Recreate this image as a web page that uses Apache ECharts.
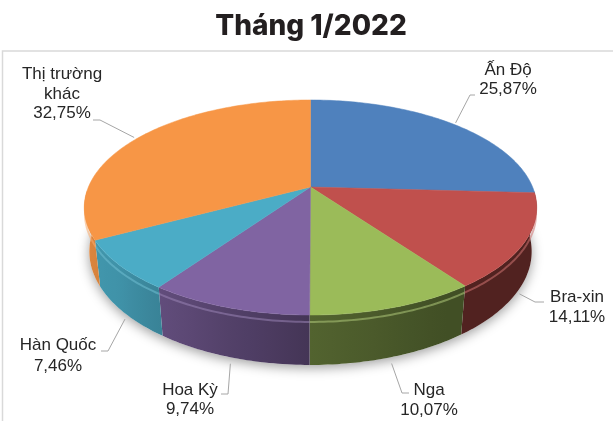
<!DOCTYPE html>
<html><head><meta charset="utf-8">
<script src="https://cdn.jsdelivr.net/npm/echarts@6/dist/echarts.min.js"></script>
<style>html,body{margin:0;padding:0;background:#fff}#c{width:613px;height:421px}</style>
</head><body><div id="c"></div>
<script>
// ---- data ----
const chartTitle = 'Tháng 1/2022';
const categories = ['Ấn Độ', 'Bra-xin', 'Nga', 'Hoa Kỳ', 'Hàn Quốc', 'Thị trường khác'];
const labelNames = ['Ấn Độ', 'Bra-xin', 'Nga', 'Hoa Kỳ', 'Hàn Quốc', 'Thị trường\nkhác'];
const shares = [25.87, 14.11, 10.07, 9.74, 7.46, 32.75];
const percentLabels = ['25,87%', '14,11%', '10,07%', '9,74%', '7,46%', '32,75%'];

// ---- styles / layout ----
const colors = ['#4F81BD', '#C0504D', '#9BBB59', '#8064A2', '#4BACC6', '#F79646'];
const labelLayout = [
  { elbow: [470, 95], end: [475, 95], text: [508, 80], lh: 19 },
  { elbow: [535, 302], end: [544, 302], text: [577, 307], lh: 20 },
  { elbow: [402, 393], end: [409, 393], text: [429, 400], lh: 20 },
  { elbow: [228, 394], end: [221, 394], text: [190, 400], lh: 19 },
  { elbow: [108, 351], end: [101, 351], text: [58, 356], lh: 21 },
  { elbow: [100, 120], end: [93, 120], text: [62, 94], lh: 19.5 }
];
const P = { cx: 310.5, cy: 187, fx: 1034, fy: 1047.6, D: 4.656, sa: 0.4605, ca: 0.8876, h: 0.222 };
const shadeStops = [[0, 0.42], [150, 0.42], [180, 0.53], [205, 0.70], [230, 0.85], [270, 0.92], [360, 0.92]];

function proj(th, Y, r) {
  r = r == null ? 1 : r;
  const t = th * Math.PI / 180;
  const X = r * Math.sin(t), Z = r * Math.cos(t);
  const yc = Z * P.sa + Y * P.ca;
  const dep = Z * P.ca - Y * P.sa;
  const q = 1 / (P.D + dep);
  return [P.cx + X * P.fx * q, P.cy - yc * P.fy * q];
}
function shadeAt(th) {
  for (let i = 1; i < shadeStops.length; i++) {
    const a = shadeStops[i - 1], b = shadeStops[i];
    if (th <= b[0]) return a[1] + (b[1] - a[1]) * (th - a[0]) / (b[0] - a[0]);
  }
  return 0.9;
}
function hexRgb(hx) { const n = parseInt(hx.slice(1), 16); return [(n >> 16) & 255, (n >> 8) & 255, n & 255]; }
function mul(hx, f) { const c = hexRgb(hx).map(v => Math.max(0, Math.min(255, Math.round(v * f)))); return 'rgb(' + c.join(',') + ')'; }
function lighten(hx, f) { const c = hexRgb(hx).map(v => Math.round(v + (255 - v) * f)); return 'rgb(' + c.join(',') + ')'; }

const total = shares.reduce((a, b) => a + b, 0);
const cum = []; shares.reduce((acc, v, i) => { cum[i] = acc; return acc + v; }, 0);
const seriesData = shares.map((v, i) => ({ name: categories[i], value: [v, cum[i], i] }));

function renderItem(params, api) {
  const v = api.value(0), s = api.value(1), idx = api.value(2);
  const th1 = s / total * 360, th2 = (s + v) / total * 360;
  const base = colors[idx];
  const ch = [];
  const h = P.h;
  if (idx === 0) {
    const pts = [];
    for (let t = 0; t <= 360; t += 3) pts.push(proj(t, -h, 1.0));
    ch.push({ type: 'polygon', z2: -10, shape: { points: pts },
      style: { fill: '#fff', shadowBlur: 12, shadowColor: 'rgba(0,0,0,0.38)', shadowOffsetY: 3 } });
  }
  // side wall (one polygon, horizontal gradient for shading)
  const a = Math.max(th1, 92), b = Math.min(th2, 268);
  if (b > a) {
    const m = Math.max(2, Math.ceil(b - a));
    const topPts = [], botPts = [];
    for (let k = 0; k <= m; k++) {
      const t = a + (b - a) * k / m;
      topPts.push(proj(t, 0));
      botPts.push(proj(t, -h));
    }
    const pts = topPts.concat(botPts.reverse());
    const xs = pts.map(p => p[0]);
    const x0 = Math.min.apply(null, xs), x1 = Math.max.apply(null, xs);
    const stops = [];
    for (let k = 0; k <= 8; k++) {
      const t = a + (b - a) * k / 8;
      const px = proj(t, -h / 2)[0];
      stops.push({ offset: Math.max(0, Math.min(1, (px - x0) / (x1 - x0))), color: mul(base, shadeAt(t)) });
    }
    stops.sort((p, q) => p.offset - q.offset);
    ch.push({ type: 'polygon', z2: 1, shape: { points: pts },
      style: { fill: new echarts.graphic.LinearGradient(0, 0, 1, 0, stops), lineWidth: 0 } });
    // bevel highlight on front rim
    const rim = [];
    for (let k = 0; k <= m; k++) rim.push(proj(a + (b - a) * k / m, -0.03));
    ch.push({ type: 'polyline', z2: 2, shape: { points: rim },
      style: { stroke: lighten(base, 0.2), lineWidth: 2, fill: null, opacity: 0.55 } });
  }
  // top face
  const top = [[P.cx, P.cy]];
  const n = Math.max(2, Math.ceil(th2 - th1));
  for (let k = 0; k <= n; k++) top.push(proj(th1 + (th2 - th1) * k / n, 0));
  ch.push({ type: 'polygon', z2: 5, shape: { points: top }, style: { fill: base, stroke: base, lineWidth: 0.5 } });
  // label + leader
  const mid = (th1 + th2) / 2;
  const front = mid > 90 && mid < 270;
  const start = front ? proj(mid, -h - 0.03, 1.0) : proj(mid, 0, 1.02);
  const L = labelLayout[idx];
  ch.push({ type: 'polyline', z2: 20, shape: { points: [start, L.elbow, L.end] },
    style: { stroke: '#a6a6a6', lineWidth: 1, fill: null } });
  ch.push({ type: 'text', z2: 21, x: L.text[0], y: L.text[1],
    style: { text: labelNames[idx] + '\n' + percentLabels[idx], fill: '#262626', fontSize: 17,
      fontFamily: '"Liberation Sans", Arial, sans-serif', align: 'center', verticalAlign: 'middle', lineHeight: L.lh } });
  return { type: 'group', children: ch };
}

const chart = echarts.init(document.getElementById('c'), null, { renderer: 'canvas' });
chart.setOption({
  animation: false,
  backgroundColor: '#fff',
  graphic: [
    { type: 'rect', shape: { x: 2.5, y: 51, width: 640, height: 420 }, style: { fill: null, stroke: '#d9d9d9', lineWidth: 1.5 }, z: 0 },
    { type: 'text', x: 311, y: 27, style: { text: chartTitle, fontSize: 28, fontWeight: 800,
      fontFamily: 'Inter, "Open Sans", sans-serif', fill: '#231f20', align: 'center', verticalAlign: 'middle' }, z: 10 }
  ],
  series: [{
    type: 'custom', coordinateSystem: 'none', silent: true,
    renderItem: renderItem, data: seriesData
  }]
});
</script>
</body></html>
